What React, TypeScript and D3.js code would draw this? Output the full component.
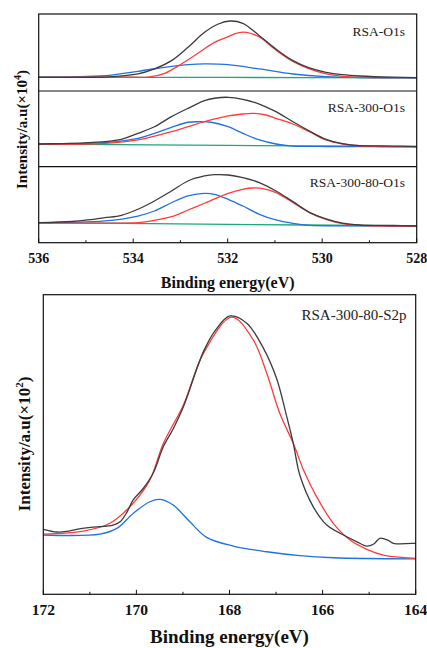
import React from "react";
import * as d3 from "d3";

type P = [number, number];

// ---------- O1s panels (binding energy eV, relative intensity) ----------
const o1sTicks = [536, 534, 532, 530, 528];
const o1sLabels = ["RSA-O1s", "RSA-300-O1s", "RSA-300-80-O1s"];

const rsaBlack: P[] = [[536,17.8],[535,17.8],[534.5,18.4],[533.9,22.1],[533.55,28.6],[533.19,39.4],[532.84,56.8],[532.49,76.2],[532.2,87.0],[531.95,90.9],[531.68,87.9],[531.33,71.8],[530.98,54.5],[530.62,39.4],[530.27,29.9],[529.92,24.3],[529.57,21.2],[529.21,19.5],[528.5,17.9],[528,17.5]];
const rsaRed: P[] = [[536,17.8],[534,17.9],[533.69,18.0],[533.33,23.0],[532.98,35.1],[532.63,49.0],[532.28,63.2],[531.99,70.5],[531.82,74.9],[531.61,76.2],[531.33,70.1],[530.98,53.2],[530.62,38.3],[530.27,28.6],[529.92,22.1],[529.57,19.1],[529.2,17.8],[528,17.3]];
const rsaBlue: P[] = [[536,17.9],[535.3,18.4],[534.6,19.9],[533.9,25.6],[533.19,32.1],[532.84,34.2],[532.49,35.1],[531.99,34.2],[531.33,28.6],[530.62,22.1],[529.92,18.6],[529.2,17.5],[528,17.1]];
const rsaGreen: P[] = [[536,18.0],[532,17.6],[528,17.0]];

const r300Black: P[] = [[536,30.0],[535.5,30.6],[534.96,31.7],[534.25,36.2],[533.9,44.1],[533.55,52.8],[533.19,66.1],[532.84,77.1],[532.49,87.2],[532.28,90.4],[531.99,91.7],[531.68,89.0],[531.33,82.8],[530.98,72.7],[530.62,59.4],[530.27,47.0],[529.92,36.0],[529.57,30.5],[529.21,27.9],[528.5,27.3],[528,26.7]];
const r300Red: P[] = [[536,29.7],[534.6,30.9],[533.9,35.3],[533.19,46.2],[532.84,52.8],[532.49,59.4],[531.99,67.0],[531.68,69.6],[531.47,70.5],[531.19,68.3],[530.98,63.9],[530.62,56.4],[530.27,46.2],[529.92,35.3],[529.57,30.0],[529.21,27.7],[528,26.4]];
const r300Blue: P[] = [[536,29.9],[534.6,31.7],[533.9,37.5],[533.55,44.1],[533.19,52.0],[532.84,58.7],[532.63,59.4],[532.35,58.7],[531.99,52.8],[531.68,44.1],[531.33,35.3],[530.98,30.0],[530.62,27.3],[529.9,26.7],[528,26.3]];
const r300Green: P[] = [[536,30.0],[532,28.2],[528,26.4]];

const r30080Black: P[] = [[536,26.3],[535.3,27.9],[534.96,29.9],[534.6,32.9],[534.25,36.1],[533.9,44.0],[533.55,54.9],[533.19,68.0],[532.84,81.2],[532.49,87.8],[532.28,89.5],[531.99,89.1],[531.68,85.5],[531.33,79.0],[530.98,68.0],[530.62,54.0],[530.27,40.0],[529.92,31.2],[529.57,25.7],[529.21,23.3],[528.5,22.6],[528,22.0]];
const r30080Red: P[] = [[536,25.9],[534,25.9],[533.9,26.3],[533.55,29.5],[533.19,34.2],[532.84,43.0],[532.49,51.9],[531.99,65.0],[531.68,70.3],[531.47,72.0],[531.19,70.3],[530.98,65.8],[530.62,53.0],[530.27,39.5],[529.92,30.8],[529.57,25.0],[529.21,22.9],[528,22.0]];
const r30080Blue: P[] = [[536,26.3],[534.6,28.6],[533.9,35.1],[533.55,41.7],[533.19,52.6],[532.84,61.5],[532.49,65.0],[532.28,63.7],[531.99,57.1],[531.68,48.3],[531.33,37.4],[530.98,29.9],[530.62,25.5],[530.27,22.9],[529.5,22.2],[528,22.0]];
const r30080Green: P[] = [[536,26.3],[532,24.2],[528,22.0]];

// ---------- S2p panel ----------
const s2pTicks = [172, 170, 168, 166, 164];
const s2pLabel = "RSA-300-80-S2p";
const s2pBlack: P[] = [[172,21.7],[171.71,20.8],[171.5,21.0],[171.28,21.7],[170.93,22.4],[170.5,23.1],[170.35,24.2],[170.2,27.5],[170.07,31.5],[169.85,35.4],[169.64,40.4],[169.42,49.3],[169.2,55.5],[168.99,62.6],[168.56,81.0],[168.3,88.2],[167.99,92.9],[167.63,90.5],[167.27,82.1],[166.99,72.1],[166.77,59.3],[166.63,50.4],[166.49,39.8],[166.2,29.2],[165.91,23.1],[165.48,19.2],[165.27,17.6],[165.05,16.1],[164.9,16.8],[164.77,18.7],[164.6,18.1],[164.48,17.0],[164.05,17.0],[164,17.1]];
const s2pRed: P[] = [[172,20.1],[171.14,21.1],[170.57,23.7],[170.07,30.4],[169.71,38.2],[169.42,50.4],[168.99,63.2],[168.56,80.4],[167.95,92.5],[167.49,84.9],[167.2,73.8],[166.92,60.4],[166.63,50.4],[166.41,41.5],[166.13,32.6],[165.77,23.7],[165.41,18.1],[165.05,15.0],[164.7,13.1],[164,12.0]];
const s2pBlue: P[] = [[172,19.8],[170.78,20.1],[170.42,22.0],[170.07,27.0],[169.71,30.9],[169.49,31.7],[169.21,29.8],[168.85,24.2],[168.49,19.0],[167.92,16.1],[167.2,14.2],[166.49,12.9],[165.77,12.2],[164,11.8]];

const BLACK = "#3c3c3c";
const RED = "#ff3b3b";
const BLUE = "#1f72e0";
const GREEN = "#1aaa78";
const FONT = "'Liberation Serif', 'Times New Roman', serif";

const oPanels = [
  { label: o1sLabels[0], series: [rsaGreen, rsaBlue, rsaRed, rsaBlack], top: 14, bottom: 91, ly: 35.7 },
  { label: o1sLabels[1], series: [r300Green, r300Blue, r300Red, r300Black], top: 91, bottom: 166.7, ly: 111.7 },
  { label: o1sLabels[2], series: [r30080Green, r30080Blue, r30080Red, r30080Black], top: 166.7, bottom: 242.7, ly: 186.7 },
];
const colors = [GREEN, BLUE, RED, BLACK];

export default function App() {
  const xO = d3.scaleLinear().domain([536, 528]).range([38.7, 416.7]);
  const xS = d3.scaleLinear().domain([172, 164]).range([43.3, 415.7]);
  const sTop = 294.7, sBot = 594.3;
  const yS = d3.scaleLinear().domain([0, 100]).range([sBot, sTop]);

  const minorO = d3.range(535, 528, -2);
  const minorS = d3.range(171, 164, -2);
  const curve = d3.curveCatmullRom.alpha(0.5);

  return (
    <svg width={427} height={648} style={{ position: "absolute", left: 0, top: 0, background: "#fff" }} fontFamily={FONT}>
      {/* ---- top figure ---- */}
      {oPanels.map((p, i) => {
        const y = d3.scaleLinear().domain([0, 100]).range([p.bottom, p.top]);
        const line = d3.line<P>().x(d => xO(d[0])).y(d => y(d[1])).curve(curve);
        return (
          <g key={i}>
            {p.series.map((s, j) => (
              <path key={j} d={line(s) || ""} fill="none" stroke={colors[j]} strokeWidth={1.3} />
            ))}
            <text x={405} y={p.ly} textAnchor="end" fontSize={13.5} fill="#222">{p.label}</text>
          </g>
        );
      })}
      <rect x={38.7} y={14} width={378} height={228.7} fill="none" stroke="#111" strokeWidth={1.2} />
      <line x1={38.7} x2={416.7} y1={91} y2={91} stroke="#111" strokeWidth={1.2} />
      <line x1={38.7} x2={416.7} y1={166.7} y2={166.7} stroke="#111" strokeWidth={1.2} />
      {o1sTicks.map(t => (
        <g key={t}>
          <line x1={xO(t)} x2={xO(t)} y1={242.7} y2={238.5} stroke="#111" strokeWidth={1} />
          <text x={xO(t)} y={263} textAnchor="middle" fontSize={14} fontWeight="bold" fill="#111">{t}</text>
        </g>
      ))}
      {minorO.map(t => (
        <line key={t} x1={xO(t)} x2={xO(t)} y1={242.7} y2={240.2} stroke="#111" strokeWidth={1} />
      ))}
      <text x={227.7} y={288} textAnchor="middle" fontSize={16} fontWeight="bold" fill="#111">Binding energy(eV)</text>
      <text transform="translate(27,129.5) rotate(-90)" textAnchor="middle" fontSize={15} fontWeight="bold" fill="#111">
        Intensity/a.u(×10<tspan dy={-6} fontSize={10}>4</tspan><tspan dy={6}>)</tspan>
      </text>

      {/* ---- bottom figure ---- */}
      {[s2pBlue, s2pRed, s2pBlack].map((s, j) => {
        const line = d3.line<P>().x(d => xS(d[0])).y(d => yS(d[1])).curve(curve);
        return <path key={j} d={line(s) || ""} fill="none" stroke={[BLUE, RED, BLACK][j]} strokeWidth={1.3} />;
      })}
      <text x={406.5} y={320} textAnchor="end" fontSize={15} fill="#222">{s2pLabel}</text>
      <rect x={43.3} y={sTop} width={372.4} height={sBot - sTop} fill="none" stroke="#111" strokeWidth={1.2} />
      {s2pTicks.map(t => (
        <g key={t}>
          <line x1={xS(t)} x2={xS(t)} y1={sBot} y2={sBot - 4.5} stroke="#111" strokeWidth={1} />
          <text x={xS(t)} y={615} textAnchor="middle" fontSize={15.5} fontWeight="bold" fill="#111">{t}</text>
        </g>
      ))}
      {minorS.map(t => (
        <line key={t} x1={xS(t)} x2={xS(t)} y1={sBot} y2={sBot - 2.5} stroke="#111" strokeWidth={1} />
      ))}
      <text x={229.5} y={643} textAnchor="middle" fontSize={19} fontWeight="bold" fill="#111">Binding energy(eV)</text>
      <text transform="translate(30,444) rotate(-90)" textAnchor="middle" fontSize={17} fontWeight="bold" fill="#111">
        Intensity/a.u(×10<tspan dy={-7} fontSize={11}>2</tspan><tspan dy={7}>)</tspan>
      </text>
    </svg>
  );
}
